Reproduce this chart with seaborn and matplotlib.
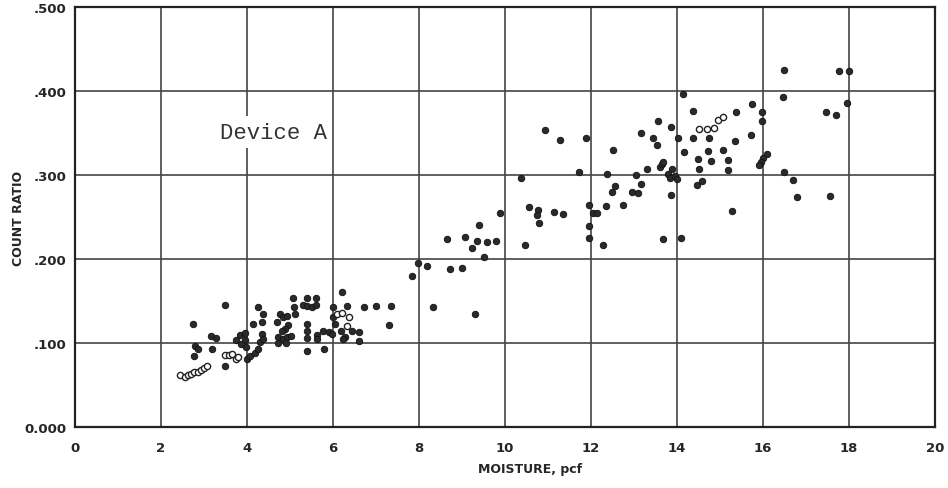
import matplotlib
matplotlib.use("Agg")
import matplotlib.pyplot as plt
import seaborn as sns
import pandas as pd

# ---- data ----
filled_x = [2.74, 2.80, 2.77, 2.86, 3.17, 3.28, 3.19, 3.49, 3.49, 3.84, 3.75, 3.95, 3.86, 3.96, 3.98,
            4.00, 4.07, 4.18, 4.26, 4.26, 4.37, 4.14, 4.35, 4.30, 4.35, 4.37,
            4.70, 4.77, 4.84, 4.93, 4.95, 4.88, 4.81, 4.72, 4.84, 4.93, 5.02, 5.07, 5.10, 5.12, 4.72, 4.90,
            5.40, 5.60, 5.30, 5.40, 5.52, 5.60, 5.40, 5.40, 5.40, 5.63, 5.63, 5.77, 5.90, 5.98, 5.40, 5.79,
            6.00, 6.00, 6.05,
            6.21, 6.33, 6.72, 7.00, 7.35, 7.30, 6.19, 6.28, 6.44, 6.60, 6.60, 6.23,
            7.84, 7.98, 8.19, 8.65, 9.07, 9.35, 9.58, 9.79, 9.23, 9.51, 9.40, 9.88, 8.72, 9.00, 8.33, 9.30,
            10.37, 10.56, 10.77, 10.74, 10.79, 11.14, 11.35, 10.47, 10.93, 11.28, 11.90, 11.72, 11.95, 11.95, 11.95,
            12.05, 12.14, 12.35, 12.74, 12.28, 12.51, 12.37, 12.56, 12.49, 12.95, 13.09, 13.16, 13.05, 13.16,
            13.44, 13.53, 13.56, 13.86, 13.30, 13.60, 13.65, 13.67, 13.79, 13.84, 13.90, 13.95, 14.00, 13.86,
            13.67, 14.09, 14.02,
            14.14, 14.37, 14.37, 14.16, 14.49, 14.51, 14.47, 14.58, 14.74, 15.35, 15.72, 14.72, 15.07, 14.79,
            15.19, 15.19, 15.37, 15.74, 15.98, 15.98, 16.09, 16.00, 15.95, 15.91, 15.28,
            16.50, 16.47, 16.49, 16.70, 16.79, 17.77, 18.00, 17.95, 17.47, 17.70, 17.56]
filled_y = [.123, .096, .085, .093, .108, .106, .093, .145, .073, .110, .103, .103, .099, .112, .095,
            .081, .084, .088, .093, .143, .135, .123, .125, .101, .111, .105,
            .125, .134, .131, .132, .122, .117, .114, .107, .105, .107, .108, .154, .143, .135, .100, .100,
            .154, .154, .145, .144, .143, .145, .123, .114, .106, .110, .105, .114, .113, .111, .090, .093,
            .143, .131, .123,
            .161, .144, .143, .144, .144, .121, .114, .107, .114, .113, .102, .105,
            .180, .195, .192, .224, .226, .222, .220, .222, .213, .202, .240, .255, .188, .189, .143, .135,
            .296, .262, .258, .252, .243, .256, .254, .217, .354, .342, .344, .303, .264, .239, .225,
            .255, .255, .263, .264, .217, .330, .301, .287, .280, .280, .279, .289, .300, .350,
            .344, .336, .364, .357, .307, .310, .313, .315, .301, .296, .307, .299, .295, .276,
            .224, .225, .344,
            .396, .376, .344, .327, .319, .307, .288, .293, .344, .340, .348, .329, .330, .317,
            .318, .306, .375, .385, .375, .364, .325, .320, .315, .312, .257,
            .425, .393, .303, .294, .274, .424, .424, .386, .375, .371, .275]

open_x = [2.45, 2.55, 2.62, 2.70, 2.78, 2.86, 2.93, 3.00, 3.07,
          3.50, 3.58, 3.66, 3.74, 3.80,
          6.09, 6.21, 6.37, 6.33,
          14.51, 14.70, 14.86, 14.95, 15.07]
open_y = [.062, .060, .062, .063, .065, .066, .068, .070, .073,
          .086, .086, .087, .081, .083,
          .135, .136, .131, .120,
          .355, .355, .356, .365, .369]

x_ticks = [0, 2, 4, 6, 8, 10, 12, 14, 16, 18, 20]
y_ticks = [0.0, 0.1, 0.2, 0.3, 0.4, 0.5]
y_tick_labels = ["0.000", ".100", ".200", ".300", ".400", ".500"]

df_f = pd.DataFrame({"x": filled_x, "y": filled_y})
df_o = pd.DataFrame({"x": open_x, "y": open_y})

sns.set_style("white")
plt.rcParams['font.family'] = ['DejaVu Sans']

fig = plt.figure(figsize=(9.48, 4.89), dpi=100)
ax = fig.add_axes([0.079, 0.1247, 0.907, 0.859])

sns.scatterplot(data=df_f, x="x", y="y", ax=ax, s=22, color="#2a2a2a",
                edgecolor="#111111", linewidth=0.6, zorder=3)
sns.scatterplot(data=df_o, x="x", y="y", ax=ax, s=20, facecolor="white",
                edgecolor="#222222", linewidth=1.0, zorder=3)

ax.set_xlim(0, 20)
ax.set_ylim(0, 0.5)
ax.set_xticks(x_ticks)
ax.set_yticks(y_ticks)
ax.set_yticklabels(y_tick_labels)
ax.grid(True, color="#444444", linewidth=1.2)
ax.set_axisbelow(True)
for sp in ax.spines.values():
    sp.set_color("#222222")
    sp.set_linewidth(1.6)
ax.tick_params(axis="y", length=0, labelsize=9.5, pad=6)
ax.tick_params(axis="x", length=0, labelsize=9.5, pad=10)
for lab in ax.get_xticklabels() + ax.get_yticklabels():
    lab.set_fontweight("bold")

ax.set_xlabel("MOISTURE, pcf", fontsize=9, fontweight="bold")
ax.set_ylabel("COUNT RATIO", fontsize=9, fontweight="bold")
ax.xaxis.set_label_coords(0.529, -0.083)
ax.yaxis.set_label_coords(-0.058, 0.5)

ax.text(3.37, 0.351, "Device A", family="Liberation Mono", fontsize=16,
        va="center", ha="left", color="#333333",
        bbox=dict(facecolor="white", edgecolor="none", pad=4), zorder=2)

fig.savefig("out.png", dpi=100)
